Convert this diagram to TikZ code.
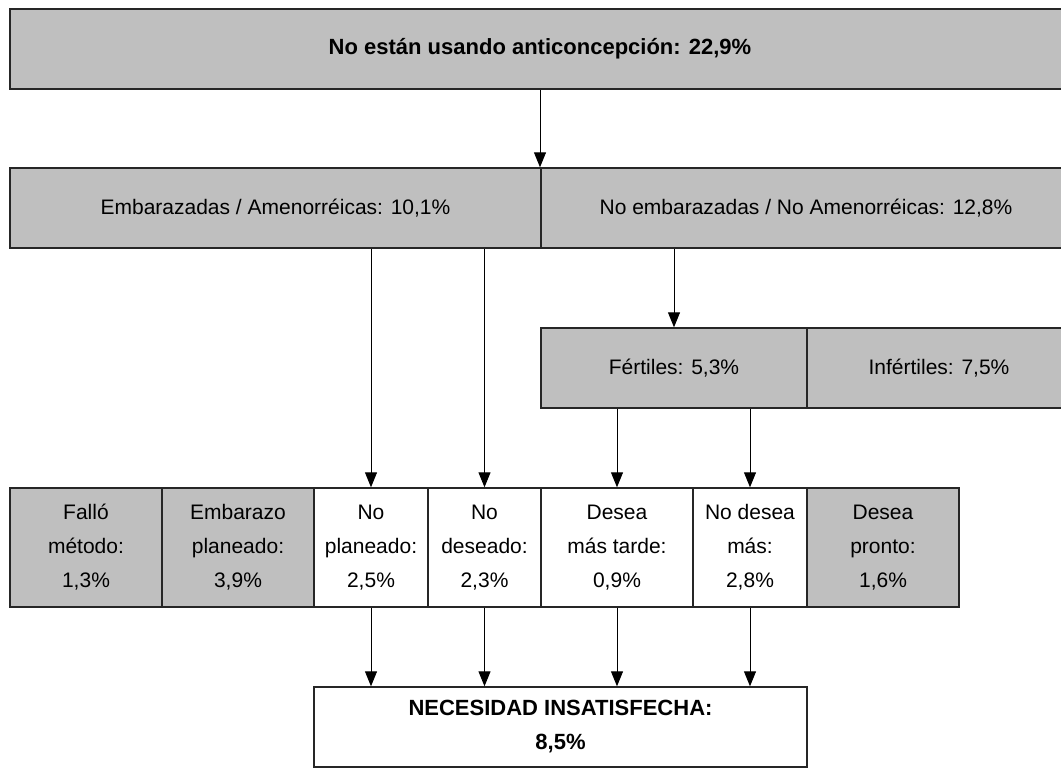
\documentclass[tikz,border=0pt]{standalone}
\usepackage{fontspec}
\setmainfont{Liberation Sans}
\usetikzlibrary{arrows.meta}

\begin{document}
\begin{tikzpicture}[x=1pt, y=-1pt,
    box/.style  = {draw=black!85, line width=1.4pt, fill=black!25,
                   inner sep=0pt, font=\fontsize{21}{34}\selectfont},
    wbox/.style = {box, fill=white},
    cell/.style = {box, minimum height=119pt, align=center},
    wcell/.style= {cell, fill=white},
    arr/.style  = {line width=1pt, -{Triangle[length=15pt,width=12pt]}}]
  \useasboundingbox (0,0) rectangle (1061,772);
  % draw top box
  \node (top) [box, minimum width=1060pt, minimum height=80pt,
        font=\fontsize{22}{34}\selectfont\bfseries] at (540,49)
        {No están usando anticoncepción: 22,9\%};
  % draw second row
  \node (emb) [box, minimum width=531pt, minimum height=80pt] at (275.5,208)
        {Embarazadas / Amenorréicas: 10,1\%};
  \node (noemb) [box, minimum width=530pt, minimum height=80pt] at (806,208)
        {No embarazadas / No Amenorréicas: 12,8\%};
  % draw third row
  \node (fert) [box, minimum width=266pt, minimum height=80pt] at (674,368)
        {Fértiles: 5,3\%};
  \node (infert) [box, minimum width=264pt, minimum height=80pt] at (939,368)
        {Infértiles: 7,5\%};
  % draw bottom row
  \node (fallo) [cell, minimum width=152pt] at (86,547.5)
        {Falló\\método:\\1,3\%};
  \node (plan) [cell, minimum width=152pt] at (238,547.5)
        {Embarazo\\planeado:\\3,9\%};
  \node (noplan) [wcell, minimum width=114pt] at (371,547.5)
        {No\\planeado:\\2,5\%};
  \node (nodes) [wcell, minimum width=113pt] at (484.5,547.5)
        {No\\deseado:\\2,3\%};
  \node (tarde) [wcell, minimum width=152pt] at (617,547.5)
        {Desea\\más tarde:\\0,9\%};
  \node (nomas) [wcell, minimum width=114pt] at (750,547.5)
        {No desea\\más:\\2,8\%};
  \node (pronto) [cell, minimum width=152pt] at (883,547.5)
        {Desea\\pronto:\\1,6\%};
  % draw result box
  \node (nec) [wbox, minimum width=493pt, minimum height=80pt, align=center,
        font=\fontsize{22}{34}\selectfont\bfseries] at (560.5,727)
        {NECESIDAD INSATISFECHA:\\8,5\%};
  % draw arrows
  \draw[arr] (top.south) -- (top.south |- emb.north);
  \draw[arr] (emb.south -| noplan) -- (noplan.north);
  \draw[arr] (emb.south -| nodes) -- (nodes.north);
  \draw[arr] (noemb.south -| fert) -- (fert.north);
  \draw[arr] (fert.south -| tarde) -- (tarde.north);
  \draw[arr] (fert.south -| nomas) -- (nomas.north);
  \draw[arr] (noplan.south) -- (noplan.south |- nec.north);
  \draw[arr] (nodes.south) -- (nodes.south |- nec.north);
  \draw[arr] (tarde.south) -- (tarde.south |- nec.north);
  \draw[arr] (nomas.south) -- (nomas.south |- nec.north);
\end{tikzpicture}
\end{document}
